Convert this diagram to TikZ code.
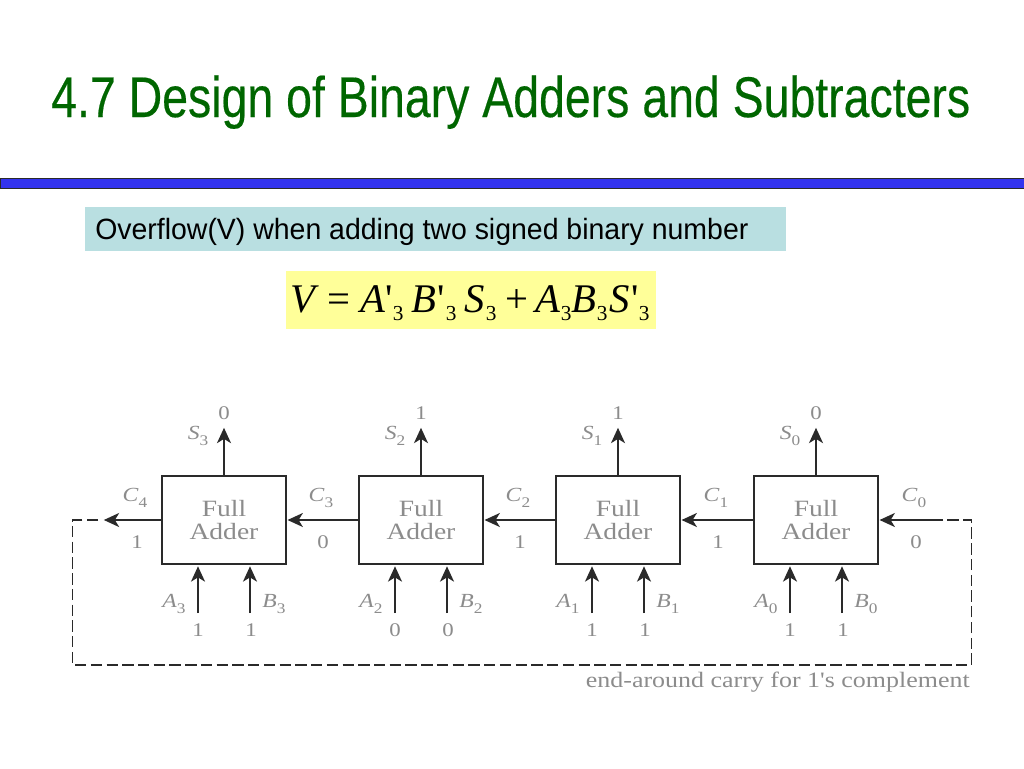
\documentclass[tikz,border=0pt]{standalone}
\usepackage{fontspec}
\usetikzlibrary{arrows.meta}
\setmainfont{Liberation Serif}[Ligatures=TeXOff]
\newfontfamily\titlefont[FakeStretch=0.81,FakeBold=0.3]{Liberation Sans}
\newfontfamily\subfont[FakeStretch=0.97]{Liberation Sans}
\newfontfamily\figfont[FakeStretch=1.18,Ligatures=TeXOff]{Liberation Serif}
\definecolor{titlegreen}{HTML}{006600}
\definecolor{barblue}{HTML}{3333EE}
\definecolor{tealbox}{HTML}{B9DFE1}
\definecolor{yellowbox}{HTML}{FFFF99}
\definecolor{lbl}{HTML}{8C8C8C}
\definecolor{wire}{HTML}{2A2A2A}
% glyph placed at an offset (in image pixels) from the start of the formula
\newcommand{\fp}[2]{\rlap{\hspace{\dimexpr #1pt*3/4\relax}#2}}
\newcommand{\fsub}[2]{\fp{#1}{\raisebox{-0.2em}{\fontsize{16pt}{18pt}\selectfont #2}}}
\newcommand{\lsub}[1]{\raisebox{-0.28em}{\fontsize{11pt}{12pt}\selectfont #1}}
\tikzset{
  x=0.75pt,y=-0.75pt,
  adderbox/.style={draw=wire,line width=1.6pt,fill=white,minimum width=92.5pt,minimum height=65.5pt,inner sep=0pt,align=center,text=lbl,font=\figfont\fontsize{17.5pt}{17.5pt}\selectfont},
  sig/.style={draw=wire,line width=1.25pt,-{Stealth[length=11.5pt,width=10.5pt,inset=3.2pt]},shorten >=0.6pt},
  loopwire/.style={draw=wire,line width=1.25pt,dash pattern=on 8.5pt off 3.3pt},
  lab/.style={text=lbl,inner sep=0pt,font=\figfont\fontsize{15pt}{16pt}\selectfont},
  val/.style={text=lbl,inner sep=0pt,font=\figfont\fontsize{14.5pt}{16pt}\selectfont},
}
\begin{document}
\begin{tikzpicture}
\useasboundingbox (0,0) rectangle (1024,768);
\fill[white] (0,0) rectangle (1024,768);
\node[anchor=base west,inner sep=0pt,text=titlegreen,font=\titlefont\fontsize{43pt}{48pt}\selectfont] (title) at (51,117) {4.7 Design of Binary Adders and Subtracters};
\path[fill=barblue,draw=wire,line width=0.7pt] (0.5,178.5) rectangle (1030,188);
\node[anchor=north west,fill=tealbox,minimum width=525.75pt,minimum height=33pt,inner sep=0pt] (tealb) at (85,207) {};
\node[anchor=base west,inner sep=0pt,font=\subfont\fontsize{22pt}{24pt}\selectfont] (subtitle) at (95,239) {Overflow(V) when adding two signed binary number};
\node[anchor=north west,fill=yellowbox,minimum width=277.5pt,minimum height=43.5pt,inner sep=0pt] (yellowb) at (286,271) {};
\node[anchor=base west,inner sep=0pt,font=\fontsize{30.5pt}{34pt}\selectfont] (formula) at (290,312) {\mbox{\fp{0}{\textit{V}}\fp{37}{=}\fp{70}{\textit{A}}\fp{95}{'}\fsub{102}{3}\fp{121}{\textit{B}}\fp{147}{'}\fsub{155}{3}\fp{174}{\textit{S}}\fsub{195}{3}\fp{215}{+}\fp{245}{\textit{A}}\fsub{270}{3}\fp{281}{\textit{B}}\fsub{306}{3}\fp{319}{\textit{S}}\fp{341}{'}\fsub{348}{3}}};

\foreach \n/\x/\sv/\a/\b/\cl/\cv/\cx in {
 3/224/0/1/1/4/1/136,
 2/421/1/0/0/3/0/322,
 1/618/1/1/1/2/1/519,
 0/816/0/1/1/1/1/717}{
  \node[adderbox] (fa\n) at (\x,520) {Full\\Adder};
  \coordinate (sout\n) at (\x,427);
  \draw[sig] (fa\n.north) -- (sout\n);
  \coordinate (ain\n) at (\x-26,613);
  \coordinate (bin\n) at (\x+26,613);
  \coordinate (atip\n) at (\x-26,565.5);
  \coordinate (btip\n) at (\x+26,565.5);
  \draw[sig] (ain\n) -- (atip\n);
  \draw[sig] (bin\n) -- (btip\n);
  \node[lab] (sl\n) at (\x-26,436) {\textit{S}\lsub{\n}};
  \node[val] (sv\n) at (\x,413) {\sv};
  \node[lab] (al\n) at (\x-50,604) {\textit{A}\lsub{\n}};
  \node[lab] (bl\n) at (\x+50,604) {\textit{B}\lsub{\n}};
  \node[val] (av\n) at (\x-26,630) {\a};
  \node[val] (bv\n) at (\x+27,630) {\b};
  \node[lab] (cl\n) at (\cx-1,498) {\textit{C}\lsub{\cl}};
  \node[val] (cv\n) at (\cx+1,542) {\cv};
}
\node[lab] (cl4) at (914,498) {\textit{C}\lsub{0}};
\node[val] (cv4) at (916,542) {0};

\draw[sig] (fa2.west) -- (fa3.east);
\draw[sig] (fa1.west) -- (fa2.east);
\draw[sig] (fa0.west) -- (fa1.east);

\coordinate (cfour) at (103,520);
\coordinate (cleft) at (98,520);
\coordinate (ctl) at (72.5,520);
\coordinate (cbl) at (72.5,665);
\coordinate (cbr) at (971.5,665);
\coordinate (ctr) at (971.5,520);
\coordinate (cright) at (938,520);
\draw[sig] (fa3.west) -- (cfour);
\draw[sig] (cright) -- (fa0.east);
\draw[loopwire] (cleft) -- (ctl) -- (cbl) -- (cbr) -- (ctr) -- (cright);
\node[anchor=east,text=lbl,inner sep=0pt,font=\figfont\fontsize{16.5pt}{18pt}\selectfont] (loopl) at (970,682) {end-around carry for 1's complement};
\end{tikzpicture}
\end{document}
